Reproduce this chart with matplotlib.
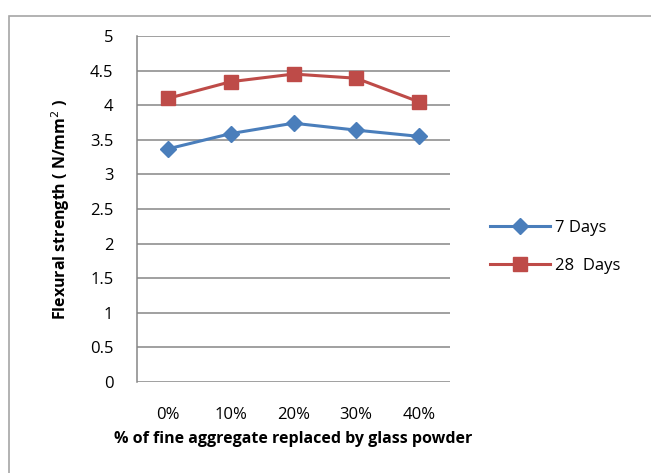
import matplotlib
matplotlib.use("Agg")
import matplotlib.pyplot as plt
from matplotlib.patches import Rectangle

categories = ["0%", "10%", "20%", "30%", "40%"]
days7 = [3.37, 3.59, 3.74, 3.64, 3.55]
days28 = [4.10, 4.34, 4.45, 4.39, 4.05]
yticks = [0, 0.5, 1, 1.5, 2, 2.5, 3, 3.5, 4, 4.5, 5]
ytick_labels = ["0", "0.5", "1", "1.5", "2", "2.5", "3", "3.5", "4", "4.5", "5"]

plt.rcParams['font.family'] = ['Open Sans', 'DejaVu Sans']

fig = plt.figure(figsize=(6.51, 4.73), dpi=100)
fig.patches.append(Rectangle((9/651, -0.1), 1.2, 1 - 16/473 + 0.1, transform=fig.transFigure,
                             fill=False, edgecolor="#a6a6a6", linewidth=1.2))
ax = fig.add_axes([137/651, 1 - 382/473, (450-137)/651, (382-36)/473])

x = list(range(len(categories)))
ax.plot(x, days7, color="#4a7ebb", linewidth=2.2, marker="D", markersize=8, label="7 Days")
ax.plot(x, days28, color="#be4b48", linewidth=2.2, marker="s", markersize=10, label="28  Days")

ax.set_xlim(-0.5, len(categories) - 0.5)
ax.set_ylim(0, 5)
ax.set_yticks(yticks)
ax.set_yticklabels(ytick_labels)
ax.set_xticks(x)
ax.set_xticklabels(categories)
ax.yaxis.grid(True, color="#868686", linewidth=1.1)
ax.set_axisbelow(True)
for s in ["top", "right", "bottom"]:
    ax.spines[s].set_visible(False)
ax.spines["left"].set_color("#868686")
ax.spines["left"].set_linewidth(1.1)
ax.tick_params(axis="both", length=0, labelsize=12, colors="black")
ax.tick_params(axis="x", pad=18)
ax.tick_params(axis="y", pad=17)

ax.set_xlabel("% of fine aggregate replaced by glass powder", fontsize=11.5, fontweight="bold", labelpad=6)
ax.set_ylabel("Flexural strength ( N/mm$^2$ )", fontsize=11.5, fontweight="bold", labelpad=13)

ax.legend(loc="center left", bbox_to_anchor=(1.08, 0.39), frameon=False, fontsize=12,
          handlelength=3.6, labelspacing=1.3, handletextpad=0.3)

fig.savefig("out.png", dpi=100)
